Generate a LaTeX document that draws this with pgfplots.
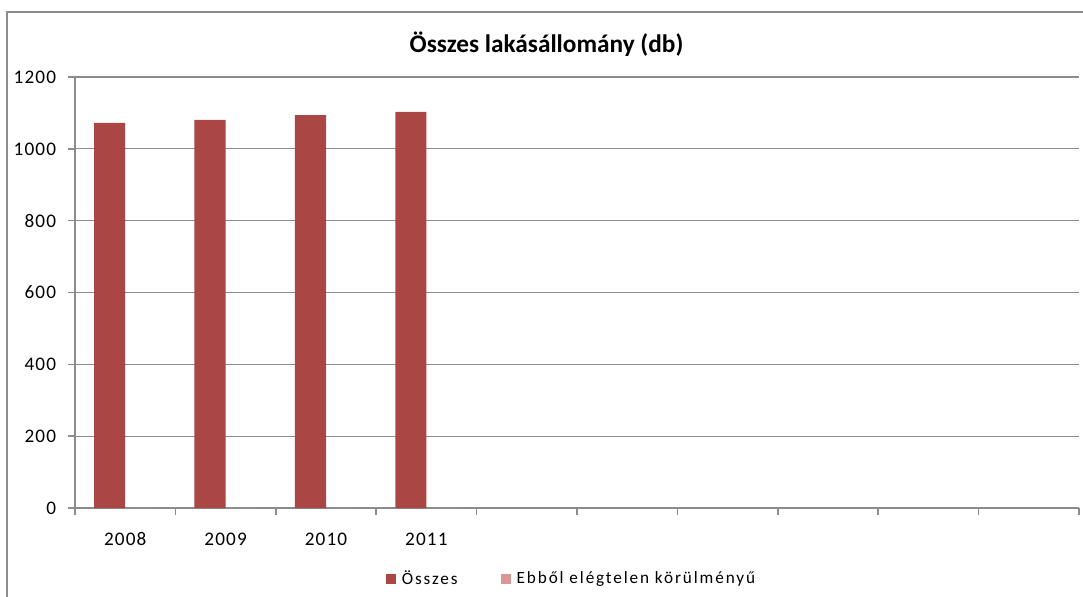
\documentclass[border=0pt]{standalone}
\usepackage{pgfplots}
\pgfplotsset{compat=1.18}
\usepackage{fontspec}
\setmainfont{Carlito}
\newfontfamily\tickfont[LetterSpace=6]{Carlito}
\newfontfamily\legfont[LetterSpace=11]{Carlito}
\definecolor{barred}{HTML}{AA4643}
\definecolor{barpink}{HTML}{D99694}
\definecolor{gridgray}{HTML}{8C8C8C}
\begin{document}
\begin{tikzpicture}
\useasboundingbox (0pt,0pt) rectangle (541.5pt,-298pt);
\begin{axis}[
  at={(37.5pt,-254pt)}, anchor=south west, scale only axis,
  width=502pt, height=215.5pt,
  xmin=-0.5, xmax=9.5, ymin=0, ymax=1200, enlargelimits=false,
  axis x line*=bottom, axis y line*=left,
  axis line style={gridgray, line width=0.9pt, -},
  xtick={-0.5,0.5,1.5,2.5,3.5,4.5,5.5,6.5,7.5,8.5,9.5},
  xticklabels={2008,2009,2010,2011,,,,,,},
  x tick label as interval,
  ytick={0,200,400,600,800,1000,1200},
  ymajorgrids, grid style={gridgray, line width=0.65pt},
  tick align=outside, major tick length=3.25pt,
  tick style={gridgray, line width=0.75pt},
  tick label style={font=\tickfont\fontsize{9.6}{11.5}\selectfont, inner sep=0pt},
  xticklabel style={anchor=north, text height=6.2pt, text depth=0pt},
  /pgf/number format/assume math mode=true,
  /pgf/number format/1000 sep={},
  xticklabel shift=9pt,
  yticklabel shift=6pt,
  legend style={at={(0.4945,-0.1647)}, anchor=center, draw=none, fill=none,
    legend columns=2, font=\legfont\fontsize{8.6}{10}\selectfont,
    nodes={inner sep=1pt},
    /tikz/every odd column/.append style={column sep=2pt},
    /tikz/every even column/.append style={column sep=20.5pt}},
  legend image code/.code={\fill[#1] (0pt,-2.5pt) rectangle (5pt,2.5pt);},
]
\addplot[fill=barred, draw=none, ybar, bar width=0.31, bar shift=-0.155]
  coordinates {(0,1072) (1,1081) (2,1094) (3,1103)};
\addlegendentry{Összes}
\addplot[fill=barpink, draw=none, ybar, bar width=0.31, bar shift=0.155]
  coordinates {(0,0) (1,0) (2,0) (3,0)};
\addlegendentry{Ebből elégtelen körülményű}
\end{axis}
\draw[gridgray, line width=0.85pt] (3.5pt,-350pt) -- (3.5pt,-6pt) -- (600pt,-6pt);
\node[font=\bfseries\fontsize{12.65}{15}\selectfont, anchor=base] at (273.25pt,-26pt) {Összes lakásállomány (db)};
\end{tikzpicture}
\end{document}
